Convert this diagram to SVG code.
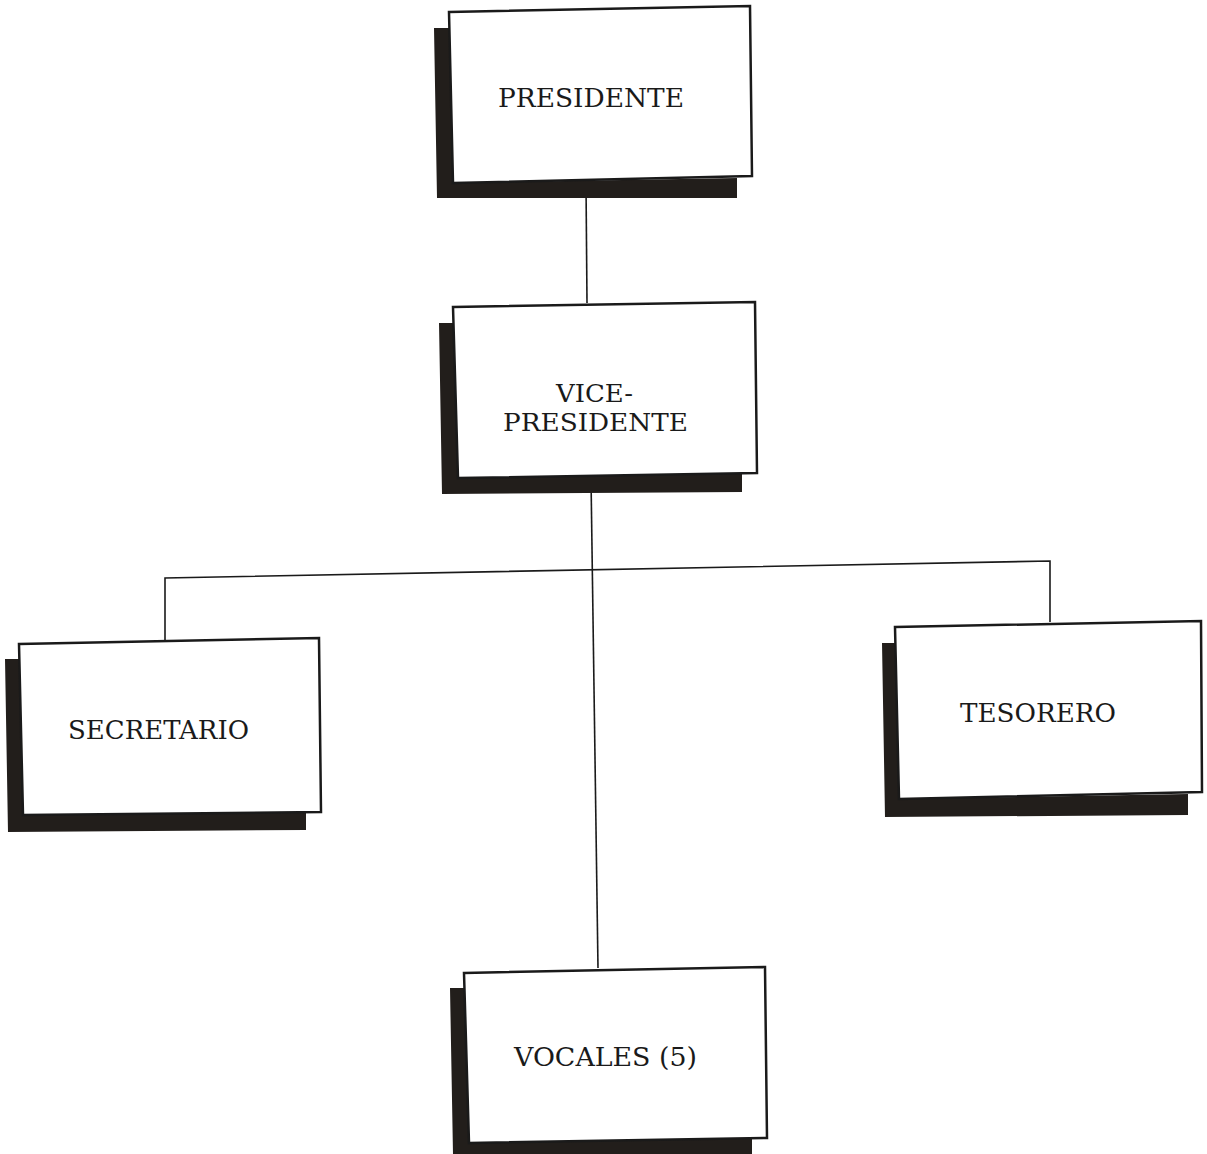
<svg xmlns="http://www.w3.org/2000/svg" width="1207" height="1154" viewBox="0 0 1207 1154">
<style>
.shadow{fill:#221e1b;stroke:none}
.box{fill:#ffffff;stroke:#1a1a1a;stroke-width:2.5;stroke-linejoin:miter}
.lbl{font-family:"DejaVu Serif","Liberation Serif",serif;font-size:26px;fill:#1a1a1a;text-anchor:start}
.sm{font-size:24px}
.conn{fill:none;stroke:#1a1a1a;stroke-width:1.6}
</style>
<rect width="1207" height="1154" fill="#ffffff"/>
<g id="connectors">
<line class="conn" x1="586" y1="183" x2="587" y2="303"/>
<line class="conn" x1="591" y1="478" x2="598" y2="968"/>
<polyline class="conn" points="165,640 165,578 1050,561 1050,622"/>
</g>
<g id="presidente">
<polygon class="shadow" points="434,28 449,28 453,183 737,178 737,198 437,198"/>
<polygon class="box" points="449,12 750,6 752,176 453,183"/>
<text class="lbl" x="498" y="107" textLength="186" lengthAdjust="spacingAndGlyphs">PRESIDENTE</text>
</g>
<g id="vicepresidente">
<polygon class="shadow" points="439,323 454,323 458,478 742,473 742,492 442,494"/>
<polygon class="box" points="453,307 755,302 757,473 458,478"/>
<text class="lbl sm" x="556" y="402" textLength="77" lengthAdjust="spacingAndGlyphs">VICE-</text>
<text class="lbl sm" x="503" y="431" textLength="185" lengthAdjust="spacingAndGlyphs">PRESIDENTE</text>
</g>
<g id="secretario">
<polygon class="shadow" points="5,659 20,659 23,815 306,812 306,830 8,832"/>
<polygon class="box" points="19,644 319,638 321,812 23,815"/>
<text class="lbl" x="68" y="739" textLength="181" lengthAdjust="spacingAndGlyphs">SECRETARIO</text>
</g>
<g id="tesorero">
<polygon class="shadow" points="882,643 896,643 899,799 1188,794 1188,815 885,817"/>
<polygon class="box" points="895,627 1201,621 1202,792 899,799"/>
<text class="lbl" x="960" y="722" textLength="156" lengthAdjust="spacingAndGlyphs">TESORERO</text>
</g>
<g id="vocales">
<polygon class="shadow" points="450,988 465,988 469,1143 752,1138 752,1154 453,1154"/>
<polygon class="box" points="464,973 765,967 767,1138 469,1143"/>
<text class="lbl" x="514" y="1066" textLength="183" lengthAdjust="spacingAndGlyphs">VOCALES (5)</text>
</g>
</svg>
